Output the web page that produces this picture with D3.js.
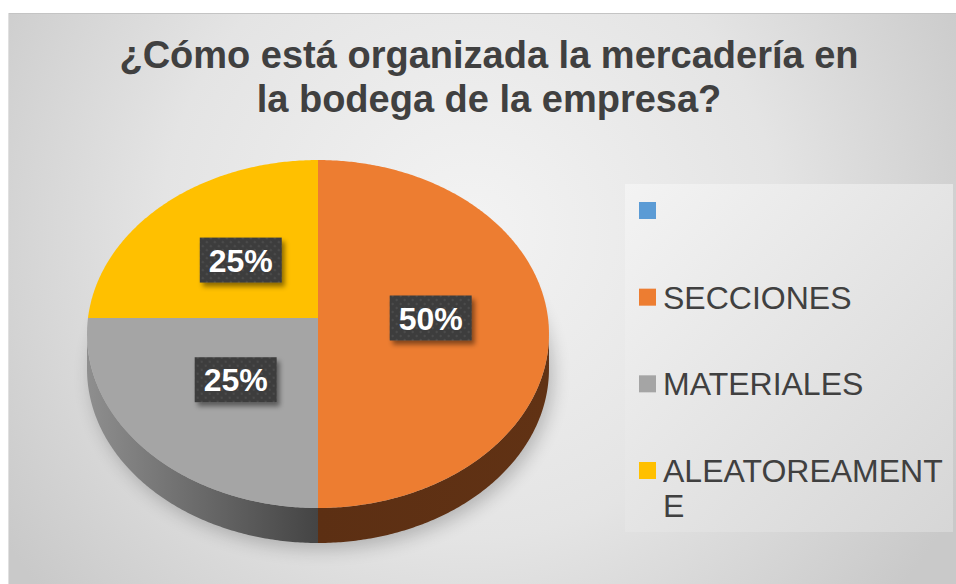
<!DOCTYPE html>
<html><head><meta charset="utf-8">
<script src="https://cdn.jsdelivr.net/npm/d3@7"></script>
<style>html,body{margin:0;padding:0;background:#fff;}svg{display:block;}</style>
</head><body>
<script>
const titleLines = ["¿Cómo está organizada la mercadería en", "la bodega de la empresa?"];
const categories = ["", "SECCIONES", "MATERIALES", "ALEATOREAMENTE"];
const values = [0, 50, 25, 25];
const colors = ["#5B9BD5", "#ED7D31", "#A5A5A5", "#FFC000"];
const legendLines = [[""], ["SECCIONES"], ["MATERIALES"], ["ALEATOREAMENT", "E"]];

const W = 956, H = 584;
const svg = d3.select("body").append("svg").attr("width", W).attr("height", H);
const defs = svg.append("defs");

// background gradient
const bg = defs.append("radialGradient").attr("id", "bg").attr("gradientUnits", "userSpaceOnUse")
  .attr("cx", 470).attr("cy", 230).attr("r", 560);
bg.append("stop").attr("offset", "0").attr("stop-color", "#f3f3f3");
bg.append("stop").attr("offset", "0.55").attr("stop-color", "#e4e4e4");
bg.append("stop").attr("offset", "1").attr("stop-color", "#c9c9c9");
const lg = defs.append("linearGradient").attr("id", "lg").attr("x1", 0).attr("y1", 0).attr("x2", 1).attr("y2", 1);
lg.append("stop").attr("offset", "0").attr("stop-color", "#f3f3f3");
lg.append("stop").attr("offset", "1").attr("stop-color", "#d6d6d6");
const sideGray = defs.append("linearGradient").attr("id", "sideGray").attr("gradientUnits", "userSpaceOnUse")
  .attr("x1", 88).attr("y1", 0).attr("x2", 318).attr("y2", 0);
sideGray.append("stop").attr("offset", "0").attr("stop-color", "#8e8e8e");
sideGray.append("stop").attr("offset", "1").attr("stop-color", "#444444");
const sideOr = defs.append("linearGradient").attr("id", "sideOr").attr("gradientUnits", "userSpaceOnUse")
  .attr("x1", 318).attr("y1", 0).attr("x2", 548).attr("y2", 0);
sideOr.append("stop").attr("offset", "0").attr("stop-color", "#5c2f13");
sideOr.append("stop").attr("offset", "1").attr("stop-color", "#613214");

const blur = defs.append("filter").attr("id", "blur").attr("x", "-20%").attr("y", "-20%").attr("width", "140%").attr("height", "140%");
blur.append("feGaussianBlur").attr("stdDeviation", 9);
const ds = defs.append("filter").attr("id", "ds").attr("x", "-20%").attr("y", "-30%").attr("width", "150%").attr("height", "170%");
ds.append("feDropShadow").attr("dx", 3).attr("dy", 4).attr("stdDeviation", 2.5).attr("flood-color", "#000").attr("flood-opacity", 0.45);
const pat = defs.append("pattern").attr("id", "dots").attr("patternUnits", "userSpaceOnUse").attr("width", 8).attr("height", 8);
pat.append("rect").attr("width", 8).attr("height", 8).attr("fill", "#3d3d3d");
pat.append("circle").attr("cx", 2).attr("cy", 2).attr("r", 1.3).attr("fill", "#4b4b4b");
pat.append("circle").attr("cx", 6).attr("cy", 6).attr("r", 1.3).attr("fill", "#4b4b4b");

svg.append("rect").attr("x", 8).attr("y", 13).attr("width", W - 8).attr("height", H - 13).attr("fill", "url(#bg)");
svg.append("line").attr("x1", 8).attr("x2", W).attr("y1", 13.5).attr("y2", 13.5).attr("stroke", "#c4c4c4");
svg.append("line").attr("x1", 8.5).attr("x2", 8.5).attr("y1", 13).attr("y2", H).attr("stroke", "#e0e0e0");

// title
const title = svg.append("text").attr("text-anchor", "middle")
  .attr("font-family", "Liberation Sans, Arial, sans-serif").attr("font-weight", "bold")
  .attr("font-size", 38).attr("fill", "#404040");
titleLines.forEach((t, i) => title.append("tspan").attr("x", 489).attr("y", 68 + i * 44).text(t));

// pie geometry (perspective projection of a circle)
const cx = 318, cy = 318, A = 230, B = 172.5, K = 0.092, DEPTH = 35;
function proj(theta, r) {
  const u = r * Math.sin(theta), v = -r * Math.cos(theta);
  const d = 1 - K * v;
  return [cx + A * u / d, cy + B * v / d];
}
const pie = d3.pie().sort(null).value(d => d.v).startAngle(0).endAngle(2 * Math.PI);
const arcs = pie(categories.map((c, i) => ({ c, v: values[i], col: colors[i] })));
const line = d3.line();
function samples(a0, a1) {
  const n = Math.max(2, Math.ceil((a1 - a0) / 0.01));
  return d3.range(n + 1).map(i => a0 + (a1 - a0) * i / n);
}

// shadow
const shadowPts = samples(0, 2 * Math.PI).map(t => { const p = proj(t, 1.0); return [p[0] + 4, p[1] + DEPTH + 6]; });
svg.append("path").attr("d", line(shadowPts) + "Z").attr("fill", "#000").attr("opacity", 0.22).attr("filter", "url(#blur)");

// sides
const tR = Math.acos(-K), tL = 2 * Math.PI - tR;
const sideFill = { "SECCIONES": "url(#sideOr)", "MATERIALES": "url(#sideGray)", "ALEATOREAMENTE": "#7a5c00" };
arcs.forEach(a => {
  if (a.value <= 0) return;
  const s0 = Math.max(a.startAngle, tR), s1 = Math.min(a.endAngle, tL);
  if (s1 <= s0) return;
  const top = samples(s0, s1).map(t => proj(t, 1));
  const bot = top.slice().reverse().map(p => [p[0], p[1] + DEPTH]);
  svg.append("path").attr("d", line(top.concat(bot)) + "Z").attr("fill", sideFill[a.data.c]);
});

// tops
arcs.forEach(a => {
  if (a.value <= 0) return;
  const pts = [[cx, cy]].concat(samples(a.startAngle, a.endAngle).map(t => proj(t, 1)));
  svg.append("path").attr("d", line(pts) + "Z").attr("fill", a.data.col);
});

// labels
const total = d3.sum(values);
arcs.forEach(a => {
  if (a.value <= 0) return;
  const mid = (a.startAngle + a.endAngle) / 2;
  const p = proj(mid, 0.49);
  const g = svg.append("g").attr("transform", `translate(${p[0]},${p[1]})`);
  g.append("rect").attr("x", -41).attr("y", -22.5).attr("width", 82).attr("height", 45)
    .attr("fill", "url(#dots)").attr("filter", "url(#ds)");
  g.append("text").attr("text-anchor", "middle").attr("y", 11.5)
    .attr("font-family", "Liberation Sans, Arial, sans-serif").attr("font-weight", "bold")
    .attr("font-size", 32).attr("fill", "#fff")
    .text(Math.round(a.value / total * 100) + "%");
});

// legend
svg.append("rect").attr("x", 625).attr("y", 184).attr("width", 328).attr("height", 348).attr("fill", "url(#lg)");
const ly = d3.scalePoint().domain(categories.map((c, i) => i)).range([210.5, 470.5]);
categories.forEach((c, i) => {
  const y = ly(i);
  svg.append("rect").attr("x", 639).attr("y", y - 8.5).attr("width", 17).attr("height", 17).attr("fill", colors[i]);
  const t = svg.append("text").attr("font-family", "Liberation Sans, Arial, sans-serif")
    .attr("font-size", 32).attr("fill", "#404040");
  legendLines[i].forEach((s, j) => t.append("tspan").attr("x", 663).attr("y", y + 11.5 + j * 35).text(s));
});
</script>
</body></html>
